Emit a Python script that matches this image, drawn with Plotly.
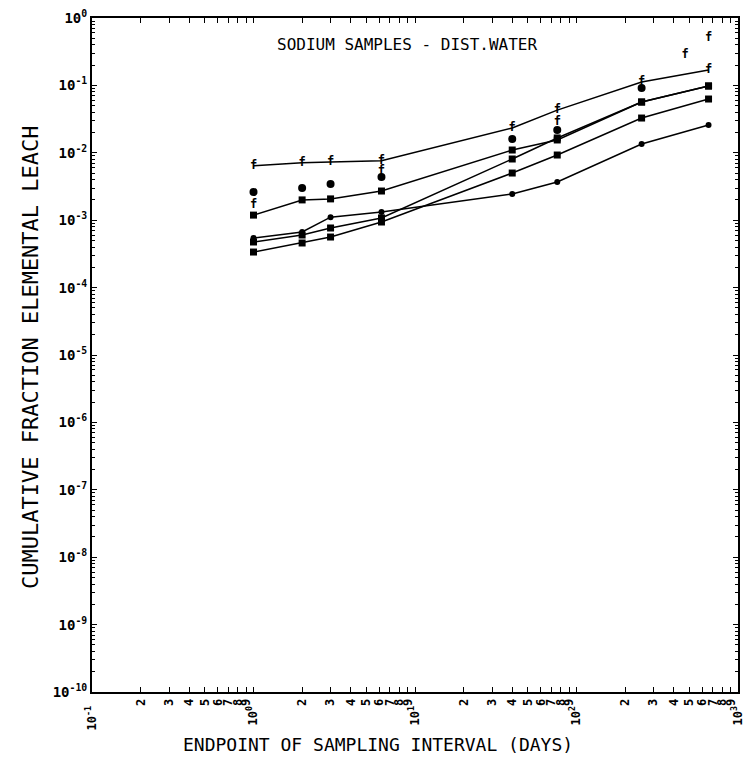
import plotly.graph_objects as go

# Endpoints of the sampling intervals (days)
days = [1.0, 2.0, 3.0, 6.2, 40.0, 76.0, 253.0, 657.0]

# Cumulative fraction of sodium leached, one list per specimen
leach_f = [6.4e-3, 7.1e-3, 7.3e-3, 7.6e-3, 2.33e-2, 4.3e-2, 1.12e-1, 1.69e-1]
leach_b = [1.19e-3, 2.0e-3, 2.07e-3, 2.71e-3, 1.1e-2, 1.55e-2, 5.67e-2, 9.8e-2]
leach_c = [5.44e-4, 6.68e-4, 1.11e-3, 1.32e-3, 2.45e-3, 3.69e-3, 1.35e-2, 2.58e-2]
leach_d = [4.75e-4, 6.03e-4, 7.66e-4, 1.08e-3, 8.09e-3, 1.66e-2, 5.67e-2, 9.8e-2]
leach_e = [3.37e-4, 4.59e-4, 5.63e-4, 9.4e-4, 5.01e-3, 9.27e-3, 3.28e-2, 6.28e-2]

# Unconnected individual points
blob_days = [1.0, 2.0, 3.0, 6.2, 40.0, 76.0, 253.0]
blob_vals = [2.62e-3, 3.0e-3, 3.44e-3, 4.38e-3, 1.6e-2, 2.18e-2, 9.15e-2]
flag_days = [1.0, 6.2, 76.0, 470.0, 657.0]
flag_vals = [1.68e-3, 5.37e-3, 2.86e-2, 0.283, 0.505]

# Axis tick labels
x_decades = [-1, 0, 1, 2, 3]
y_decades = list(range(-10, 1))

FONT = "DejaVu Sans Mono"
INK = "black"
PAD = "\u00a0"   # keeps the rotated decade labels a little clear of the axis

x_tickvals, x_ticktext = [], []
for e in x_decades:
    for m in range(1, 10):
        if e == 3 and m > 1:
            break
        x_tickvals.append(m * 10.0 ** e)
        x_ticktext.append(f"10<sup>{e}</sup>{PAD}" if m == 1 else str(m))

y_tickvals = [10.0 ** e for e in y_decades]
y_ticktext = [f"10<sup>{e}</sup>" for e in y_decades]
y_minor = [m * 10.0 ** e for e in y_decades[:-1] for m in range(2, 10)]

fig = go.Figure()

line_style = dict(color=INK, width=1.5)

fig.add_trace(go.Scatter(
    x=days, y=leach_f, mode="lines+text", text=["f"] * len(days),
    textposition="middle center",
    textfont=dict(family=FONT, size=12, color=INK, weight="bold"),
    line=line_style, showlegend=False))

for vals, sym, size in [(leach_b, "square", 7), (leach_c, "circle", 6),
                        (leach_d, "square", 7), (leach_e, "square", 7)]:
    fig.add_trace(go.Scatter(
        x=days, y=vals, mode="lines+markers", line=line_style,
        marker=dict(symbol=sym, size=size, color=INK), showlegend=False))

fig.add_trace(go.Scatter(
    x=blob_days, y=blob_vals, mode="markers",
    marker=dict(symbol="circle", size=8, color=INK), showlegend=False))

fig.add_trace(go.Scatter(
    x=flag_days, y=flag_vals, mode="text", text=["f"] * len(flag_days),
    textposition="middle center",
    textfont=dict(family=FONT, size=12, color=INK, weight="bold"),
    showlegend=False))

axis_common = dict(
    showgrid=False, zeroline=False, showline=True, linecolor=INK, linewidth=2,
    ticks="inside", ticklen=5, tickcolor=INK, tickwidth=1, mirror="allticks",
)

fig.update_xaxes(type="log", range=[-1, 3], tickmode="array",
                 tickvals=x_tickvals, ticktext=x_ticktext, tickangle=-90,
                 tickfont=dict(family=FONT, size=12, color=INK, weight="bold"),
                 **axis_common)
fig.update_yaxes(type="log", range=[-10, 0], tickmode="array",
                 tickvals=y_tickvals, ticktext=y_ticktext,
                 tickfont=dict(family=FONT, size=14, color=INK, weight="bold"),
                 minor=dict(tickmode="array", tickvals=y_minor, ticks="inside",
                            ticklen=3, tickcolor=INK, showgrid=False),
                 **axis_common)

fig.add_annotation(text="SODIUM SAMPLES - DIST.WATER", xref="paper", yref="paper",
                   x=0.487, y=0.960, xanchor="center", yanchor="middle",
                   showarrow=False, font=dict(family=FONT, size=16, color=INK))
fig.add_annotation(text="ENDPOINT OF SAMPLING INTERVAL (DAYS)", xref="paper",
                   yref="paper", x=0.443, y=-0.078, xanchor="center",
                   yanchor="middle", showarrow=False,
                   font=dict(family=FONT, size=18, color=INK))
fig.add_annotation(text="CUMULATIVE FRACTION ELEMENTAL LEACH", xref="paper",
                   yref="paper", x=-0.096, y=0.497, xanchor="center",
                   yanchor="middle", textangle=-90, showarrow=False,
                   font=dict(family=FONT, size=22, color=INK))

fig.update_layout(
    width=752, height=759,
    margin=dict(l=92, r=14, t=18, b=67, autoexpand=False),
    paper_bgcolor="white", plot_bgcolor="white",
)

fig.write_html("out.html")
